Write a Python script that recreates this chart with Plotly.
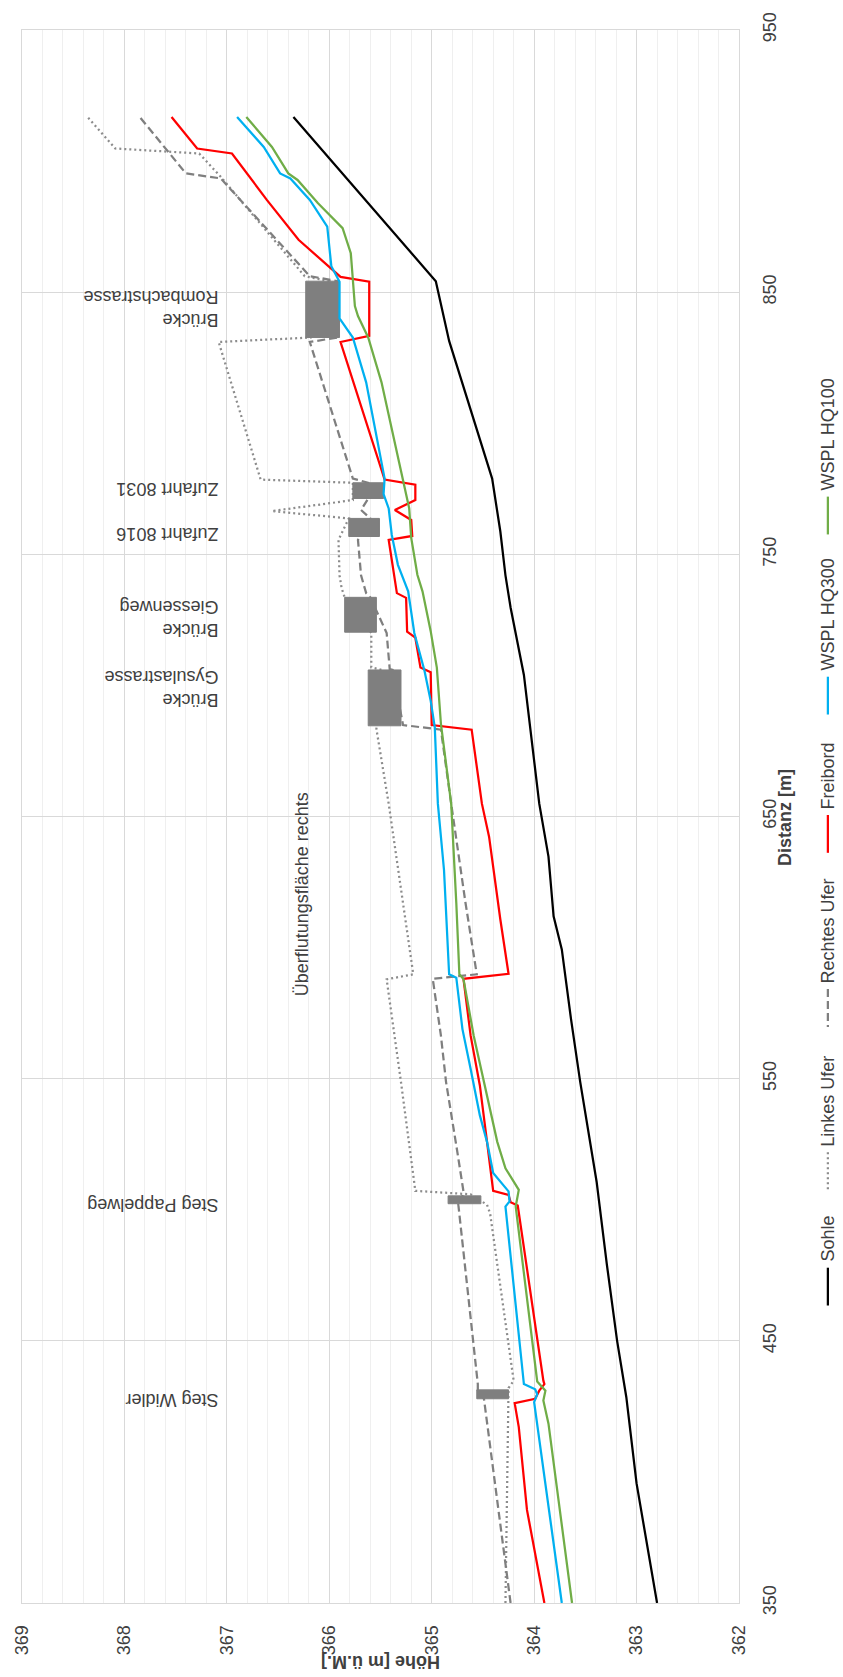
import plotly.graph_objects as go

# ---------------- data: Distanz [m] (d) / Höhe [m ü.M.] (h) ----------------
sohle_d = [350, 395.6, 428.5, 450, 479.1, 510.7, 548.7, 572.7, 599.3, 611.9, 634.7, 654.9, 704, 729.7, 742, 758.7, 778.9, 822, 831.4, 854.2, 916.8]
sohle_h = [362.80, 363.00, 363.10, 363.19, 363.29, 363.39, 363.55, 363.64, 363.73, 363.81, 363.86, 363.95, 364.10, 364.23, 364.28, 364.33, 364.41, 364.75, 364.83, 364.96, 366.35]

links_d = [350, 426.0, 432.0, 434.8, 498.6, 501.9, 505.9, 507.2, 548.7, 587.9, 589.8, 654.9, 683.4, 705.9, 706.9, 720.0, 733.6, 737.2, 742.0, 755.5, 763.7, 766.5, 770.7, 777.3, 778.5, 831.0, 832.7, 854.2, 856.1, 894.0, 902.9, 904.8, 916.8]
links_h = [364.28, 364.25, 364.25, 364.20, 364.43, 364.46, 364.62, 365.16, 365.30, 365.44, 365.18, 365.42, 365.54, 365.49, 365.59, 365.59, 365.85, 365.88, 365.90, 365.91, 365.81, 366.56, 365.77, 365.77, 366.67, 367.08, 366.18, 366.00, 366.24, 367.06, 367.27, 368.09, 368.36]

rechts_d = [350, 426.0, 427.9, 431.3, 433.5, 501.9, 502.3, 505.3, 507.0, 522.1, 548.7, 566.4, 588.1, 589.8, 617.0, 654.9, 683.1, 684.9, 705.9, 706.2, 720.0, 733.6, 735.2, 742.0, 755.5, 763.7, 766.9, 771.3, 777.3, 778.9, 831.0, 832.7, 854.2, 856.1, 893.4, 895.3, 916.8]
rechts_h = [364.23, 364.49, 364.49, 364.55, 364.55, 364.74, 364.70, 364.70, 364.69, 364.75, 364.86, 364.91, 364.99, 364.56, 364.67, 364.81, 364.91, 365.28, 365.38, 365.41, 365.44, 365.60, 365.64, 365.69, 365.72, 365.60, 365.69, 365.62, 365.62, 365.77, 366.19, 365.92, 365.92, 366.19, 367.06, 367.40, 367.85]

freibord_d = [350, 385.5, 417.1, 426.2, 427.9, 431.0, 433.5, 434.8, 501.6, 502.9, 505.7, 507.2, 525.9, 547.4, 566.4, 588.1, 590.0, 610.7, 642.3, 654.9, 683.1, 684.9, 705.0, 706.8, 718.2, 720.5, 733.4, 735.2, 755.5, 757.0, 763.1, 766.9, 770.7, 776.6, 778.5, 831.0, 833.3, 854.0, 855.8, 870.0, 885.2, 902.9, 904.8, 916.8]
freibord_h = [363.90, 364.07, 364.15, 364.19, 363.99, 363.95, 363.90, 363.91, 364.16, 364.23, 364.25, 364.40, 364.46, 364.53, 364.62, 364.69, 364.25, 364.33, 364.44, 364.51, 364.61, 365.00, 365.01, 365.11, 365.16, 365.24, 365.25, 365.34, 365.42, 365.19, 365.20, 365.36, 365.16, 365.16, 365.46, 365.89, 365.61, 365.61, 365.89, 366.30, 366.61, 366.95, 367.29, 367.54]

hq300_d = [350, 426.6, 429.6, 431.5, 433.5, 501.2, 503.2, 507.0, 514.0, 525.9, 536.0, 548.7, 553.7, 568.9, 588.5, 589.8, 629.6, 654.9, 684.0, 694.1, 705.5, 720.0, 735.9, 746.0, 757.4, 767.5, 773.0, 778.9, 815.6, 832.7, 840.0, 854.0, 859.9, 875.0, 885.2, 893.4, 895.3, 905.4, 916.8]
hq300_h = [363.73, 364.00, 363.97, 363.99, 364.10, 364.28, 364.24, 364.25, 364.40, 364.46, 364.53, 364.59, 364.62, 364.70, 364.76, 364.83, 364.88, 364.94, 364.97, 365.01, 365.07, 365.17, 365.23, 365.33, 365.39, 365.42, 365.47, 365.46, 365.64, 365.77, 365.90, 365.90, 365.98, 366.02, 366.19, 366.38, 366.48, 366.64, 366.90]

hq100_d = [350, 418.4, 427.2, 431.0, 434.5, 501.2, 507.6, 515.8, 525.9, 534.8, 548.7, 566.4, 588.0, 589.8, 617.0, 654.9, 685.3, 706.8, 720.7, 735.9, 742.2, 756.3, 767.6, 778.3, 815.6, 832.7, 840.9, 844.7, 864.9, 874.4, 883.9, 892.8, 895.3, 905.4, 916.8]
hq100_h = [363.63, 363.86, 363.91, 363.89, 363.97, 364.18, 364.15, 364.28, 364.36, 364.41, 364.49, 364.59, 364.69, 364.73, 364.76, 364.81, 364.91, 364.95, 365.01, 365.09, 365.14, 365.20, 365.22, 365.28, 365.49, 365.62, 365.72, 365.75, 365.79, 365.87, 366.11, 366.31, 366.40, 366.56, 366.81]

bridge_labels = ["Steg Widler", "Steg Pappelweg", "Brücke<br>Gysulastrasse", "Brücke<br>Giessenweg",
                 "Zufahrt 8016", "Zufahrt 8031", "Brücke<br>Rombachstrasse"]
bridge_d_low = [427.9, 502.3, 684.6, 720.3, 756.8, 771.3, 832.7]
bridge_d_high = [431.3, 505.3, 705.9, 733.6, 763.7, 777.3, 854.2]
bridge_h_low = [364.25, 364.52, 365.30, 365.54, 365.51, 365.47, 365.90]
bridge_h_high = [364.56, 364.84, 365.62, 365.85, 365.81, 365.77, 366.23]
label_d = [427.2, 501.9, 698.8, 725.3, 758.0, 775.2, 843.5]
label_h = 367.06

area_text = "Überflutungsfläche rechts"
area_d = 620.2
area_h = 366.27

hoehe_ticks = [362, 363, 364, 365, 366, 367, 368, 369]
distanz_ticks = [350, 450, 550, 650, 750, 850, 950]

# ---------------- figure ----------------
W, H = 843, 1677
ML, MR, MT, MB = 21, 104, 22, 74
PW, PH = W - ML - MR, H - MT - MB
FONT = "Liberation Sans, Arial, sans-serif"
TXT = "#404040"
LW = 2.25
DOT = "2px,3px"
DASH = "8px,4px"

def px(x):
    return (x - ML) / PW

def py(y):
    return (H - MB - y) / PH

fig = go.Figure()

# banks
fig.add_trace(go.Scatter(x=links_h, y=links_d, mode="lines", name="Linkes Ufer",
                         line=dict(color="#8c8c8c", width=LW, dash=DOT), showlegend=False))
fig.add_trace(go.Scatter(x=rechts_h, y=rechts_d, mode="lines", name="Rechtes Ufer",
                         line=dict(color="#7f7f7f", width=LW, dash=DASH), showlegend=False))

# bridges
for dl, dh, hl, hh in zip(bridge_d_low, bridge_d_high, bridge_h_low, bridge_h_high):
    fig.add_trace(go.Scatter(x=[hl, hh, hh, hl, hl], y=[dl, dl, dh, dh, dl], mode="lines",
                             fill="toself", fillcolor="#7f7f7f", line=dict(color="#7f7f7f", width=1),
                             showlegend=False, hoverinfo="skip"))

fig.add_trace(go.Scatter(x=freibord_h, y=freibord_d, mode="lines", name="Freibord",
                         line=dict(color="#ff0000", width=LW), showlegend=False))
fig.add_trace(go.Scatter(x=hq300_h, y=hq300_d, mode="lines", name="WSPL HQ300",
                         line=dict(color="#00b0f0", width=LW), showlegend=False))
fig.add_trace(go.Scatter(x=hq100_h, y=hq100_d, mode="lines", name="WSPL HQ100",
                         line=dict(color="#70ad47", width=LW), showlegend=False))
fig.add_trace(go.Scatter(x=sohle_h, y=sohle_d, mode="lines", name="Sohle",
                         line=dict(color="#000000", width=LW), showlegend=False))

annotations = []
for lab, d in zip(bridge_labels, label_d):
    annotations.append(dict(x=label_h, y=d, xref="x", yref="y", text=lab, showarrow=False,
                            textangle=180, xanchor="right", yanchor="middle", align="left",
                            font=dict(family=FONT, size=18, color=TXT)))
annotations.append(dict(x=area_h, y=area_d, xref="x", yref="y", text=area_text, showarrow=False,
                        textangle=-90, xanchor="center", yanchor="middle",
                        font=dict(family=FONT, size=18, color=TXT)))

# axis titles
annotations.append(dict(x=px(380), y=py(1663), xref="paper", yref="paper", text="<b>Höhe [m ü.M.]</b>",
                        showarrow=False, textangle=180, xanchor="center", yanchor="middle",
                        font=dict(family=FONT, size=18, color=TXT)))
annotations.append(dict(x=px(785), y=py(813), xref="paper", yref="paper", text="<b>Distanz [m]</b>",
                        showarrow=False, textangle=-90, xanchor="center", yanchor="middle",
                        font=dict(family=FONT, size=18, color=TXT)))

# legend (rotated, built by hand)
legend_items = [
    ("WSPL HQ100", "#70ad47", "solid", 487),
    ("WSPL HQ300", "#00b0f0", "solid", 668),
    ("Freibord", "#ff0000", "solid", 807),
    ("Rechtes Ufer", "#7f7f7f", DASH, 982),
    ("Linkes Ufer", "#8c8c8c", DOT, 1146),
    ("Sohle", "#000000", "solid", 1262),
]
shapes = []
LX = 828
for name, col, dash, tb in legend_items:
    shapes.append(dict(type="line", xref="paper", yref="paper", x0=px(LX), x1=px(LX),
                       y0=py(tb + 4), y1=py(tb + 42), line=dict(color=col, width=LW, dash=dash)))
    annotations.append(dict(x=px(LX), y=py(tb), xref="paper", yref="paper", text=name, showarrow=False,
                            textangle=-90, xanchor="center", yanchor="bottom",
                            font=dict(family=FONT, size=18, color=TXT)))

fig.update_layout(
    width=W, height=H, margin=dict(l=ML, r=MR, t=MT, b=MB, pad=0),
    paper_bgcolor="white", plot_bgcolor="white",
    font=dict(family=FONT, size=18, color=TXT),
    showlegend=False, annotations=annotations, shapes=shapes,
    xaxis=dict(range=[369, 362], tickvals=hoehe_ticks, tickangle=-90, showgrid=True,
               gridcolor="#d9d9d9", gridwidth=1, zeroline=False, showline=True, mirror=True,
               linecolor="#d9d9d9", linewidth=1, ticks="", ticklabelstandoff=14,
               tickfont=dict(family=FONT, size=18, color=TXT),
               minor=dict(dtick=0.2, showgrid=True, gridcolor="#efefef", gridwidth=1)),
    yaxis=dict(range=[350, 950], tickvals=distanz_ticks, side="right", tickangle=-90, showgrid=True,
               gridcolor="#d9d9d9", gridwidth=1, zeroline=False, showline=True, mirror=True,
               linecolor="#d9d9d9", linewidth=1, ticks="", ticklabelstandoff=14,
               tickfont=dict(family=FONT, size=18, color=TXT)),
)

fig.write_html("out.html", config={"displayModeBar": False, "staticPlot": True},
               post_script="document.body.style.margin='0';document.body.style.overflow='hidden';")
